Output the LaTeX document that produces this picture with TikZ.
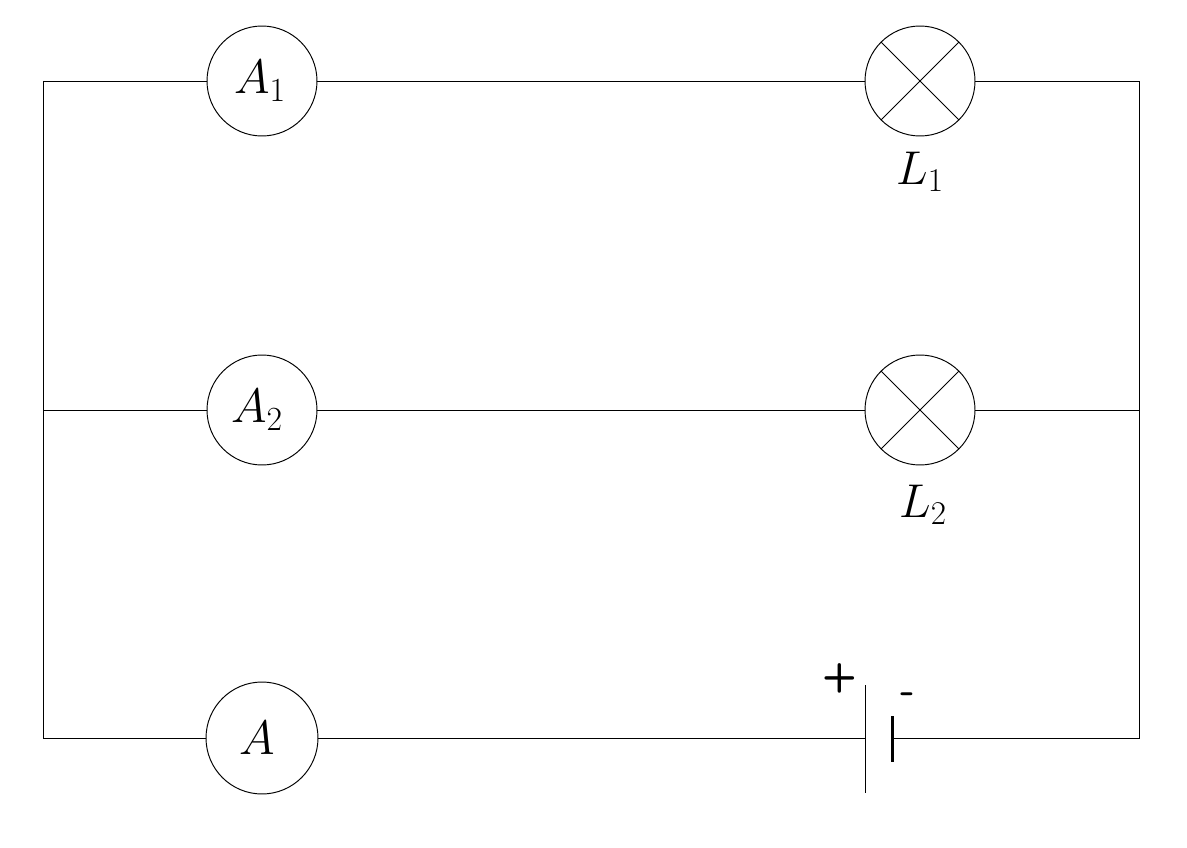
\documentclass[tikz,border=0pt]{standalone}
\usepackage{fix-cm}
\tikzset{
	meter/.style={draw, circle, minimum size=2.2cm, inner sep=0pt, font=\fontsize{27.5}{32}\selectfont},
	lamp/.style={draw, circle, minimum size=2.2cm, inner sep=0pt},
	lamplabel/.style={font=\fontsize{27}{32}\selectfont, inner sep=0pt},
	signlabel/.style={font=\fontsize{23}{26}\selectfont\sffamily\bfseries, inner sep=0pt}
}
\begin{document}
\begin{tikzpicture}[x=0.02cm, y=-0.02cm, line width=0.55pt]
 \useasboundingbox (0,0) rectangle (1187,848);
 % top branch
 \node[meter] (A1) at (262,81) {$A_1$\kern2.3pt};
 \node[lamp] (L1) at (920,81) {};
 \node[lamplabel] (L1text) at (920,172) {$L_1$};
 % middle branch
 \node[meter] (A2) at (262,410) {$A_2$\kern5.7pt};
 \node[lamp] (L2) at (920,410) {};
 \node[lamplabel] (L2text) at (923,505) {$L_2$};
 % bottom branch
 \node[meter, minimum size=2.24cm] (A) at (262,738) {$A$\kern5pt};
 \coordinate (plusplate) at (865,738);
 \coordinate (plustop) at (865,685);
 \coordinate (plusbottom) at (865,793);
 \coordinate (minusplate) at (892.5,738);
 \coordinate (minustop) at (892.5,716);
 \coordinate (minusbottom) at (892.5,762);
 \node[signlabel] (plus) at (840,678) {+};
 \node[signlabel] (minus) at (908,698) {-};
 % corners
 \coordinate (tl) at (43.5,81);
 \coordinate (ml) at (43.5,410);
 \coordinate (bl) at (43.5,738);
 \coordinate (tr) at (1139,81);
 \coordinate (mr) at (1139,410);
 \coordinate (br) at (1139,738);
 % wires
 \draw (tl) -- (A1) -- (L1) -- (tr) -- (br) -- (minusplate);
 \draw (ml) -- (A2) -- (L2) -- (mr);
 \draw (tl) -- (bl) -- (A) -- (plusplate);
 \draw (plustop) -- (plusbottom);
 \draw[line width=1.2pt] (minustop) -- (minusbottom);
 % lamp crosses
 \draw (L1.45) -- (L1.225);
 \draw (L1.135) -- (L1.315);
 \draw (L2.45) -- (L2.225);
 \draw (L2.135) -- (L2.315);
\end{tikzpicture}
\end{document}
